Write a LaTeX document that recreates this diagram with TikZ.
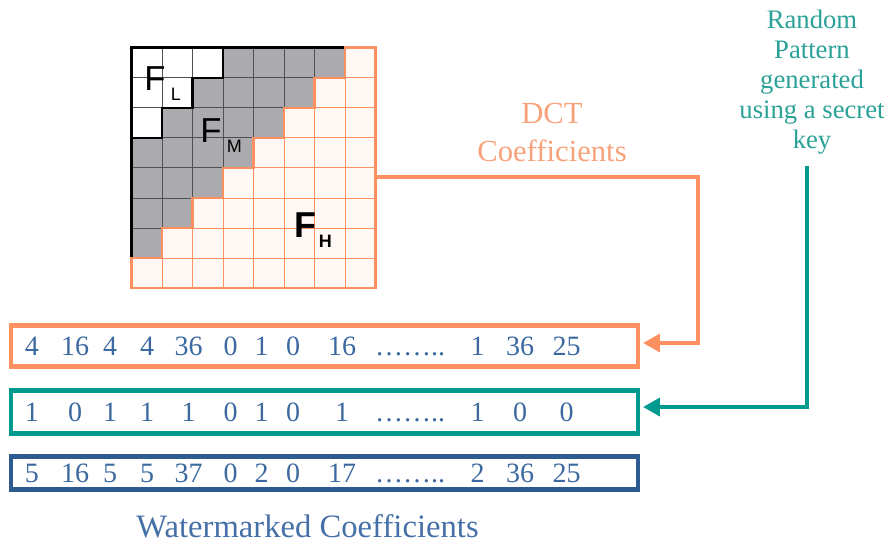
\documentclass[tikz,border=0pt]{standalone}
\definecolor{dctorange}{HTML}{FF9160}
\definecolor{dcttext}{HTML}{F8A27C}
\definecolor{keyteal}{HTML}{009A8E}
\definecolor{keytext}{HTML}{2AA197}
\definecolor{numblue}{HTML}{3B69A0}
\definecolor{wmblue}{HTML}{2E5B8F}
\definecolor{wmtext}{HTML}{4670A8}
\definecolor{cellgray}{HTML}{ABAAAE}
\definecolor{hfill}{HTML}{FFF8F5}
\definecolor{gridline}{HTML}{505050}
\usepackage{fontspec}
\setmainfont{Liberation Serif}
\setsansfont{Liberation Sans}
\usepackage{tikz}
\usetikzlibrary{arrows.meta, positioning}
\newcommand{\fband}[2][4pt]{F\kern#1\raisebox{-8pt}{\fontsize{13.5}{14}\selectfont #2}}

\begin{document}
\begin{tikzpicture}[
    x=0.75pt, y=-0.75pt,
    coefbox/.style={draw, line width=3.4pt, minimum width=470pt, inner sep=0pt},
    coef/.style={text=numblue, font=\fontsize{21}{25}\selectfont, inner sep=0pt, text height=14.2pt, text depth=0pt},
    lowcell/.style={draw=gridline, line width=0.75pt},
    highcell/.style={draw=dctorange, fill=hfill, line width=0.75pt},
    bandlabel/.style={font=\sffamily\fontsize{26}{28}\selectfont, anchor=base west, inner sep=0pt},
    conn/.style={line width=2.5pt, -{Triangle[length=12.5pt,width=13.5pt]}, shorten >=2.25pt},
    node distance=14pt,
  ]
  \useasboundingbox (0,0) rectangle (890,550);

  \begin{scope}[shift={(131.5,47.5)}, x=22.875pt, y=-22.575pt]
    \foreach \r in {0,...,7}
      \foreach \c in {0,...,7} {
        \pgfmathtruncatemacro\s{\r+\c}
        \ifnum\s<3 \draw[lowcell, fill=white] (\c,\r) rectangle ++(1,1);
        \else\ifnum\s<7 \draw[lowcell, fill=cellgray] (\c,\r) rectangle ++(1,1);
        \fi\fi
      }
    \foreach \r in {0,...,7}
      \foreach \c in {0,...,7} {
        \pgfmathtruncatemacro\s{\r+\c}
        \ifnum\s>6 \draw[highcell] (\c,\r) rectangle ++(1,1); \fi
      }
    \draw[line width=1.6pt] (0,7) -- (0,0) -- (7,0);
    \draw[line width=1.6pt] (0,3) -| (1,2) -| (2,1) -| (3,0);
    \draw[dctorange, line width=1.6pt] (0,7) -| (1,6) -| (2,5) -| (3,4) -| (4,3) -| (5,2) -| (6,1) -| (7,0) -- (8,0) -- (8,8) -- (0,8) -- cycle;
  \end{scope}
  \coordinate (gridout) at (376,177);

  \node[bandlabel] (fl) at (144,90) {\fband{L}};
  \node[bandlabel] (fm) at (200,142) {\fband{M}};
  \node[bandlabel, font=\sffamily\bfseries\fontsize{27}{28}\selectfont] (fh) at (294,237) {\fband[2pt]{H}};

  \node[font=\fontsize{23}{29}\selectfont, text=dcttext, align=center, anchor=north, inner sep=0pt] (dctlab) at (552,102.5) {DCT\\Coefficients};
  \node[font=\fontsize{20}{22.5}\selectfont, text=keytext, align=center, anchor=north, inner sep=0pt] (rnd) at (812,9.5) {Random\\Pattern\\generated\\using a secret\\key};

  \node[coefbox, draw=dctorange, minimum height=31.1pt] (dct) at (324.5,346) {};
  \node[coefbox, draw=keyteal, minimum height=32.6pt, below=14.25pt of dct] (rpat) {};
  \node[coefbox, draw=wmblue, minimum height=25.1pt, below=13.5pt of rpat] (wm) {};

  \foreach \x [count=\i] in {32,75,110,147,188.5,230.5,261.5,293,342,410,477.5,520,566.5}
    \coordinate (col-\i) at (\x,0);
  \foreach \t [count=\i] in {4,16,4,4,36,0,1,0,16,……..,1,36,25}
    \node[coef] (dct-\i) at (col-\i |- dct) {\t};
  \foreach \t [count=\i] in {1,0,1,1,1,0,1,0,1,……..,1,0,0}
    \node[coef] (rpat-\i) at (col-\i |- rpat) {\t};
  \foreach \t [count=\i] in {5,16,5,5,37,0,2,0,17,……..,2,36,25}
    \node[coef] (wm-\i) at (col-\i |- wm) {\t};

  \node[font=\fontsize{24.5}{28}\selectfont, text=wmtext, anchor=base] (wmlab) at (307.5,537) {Watermarked Coefficients};

  \draw[conn, dctorange] (gridout) -- ++(322,0) |- ([yshift=2.25pt]dct.east);
  \draw[conn, keyteal, shorten <=9pt] ([xshift=-3.75pt]rnd.south) |- ([yshift=3.75pt]rpat.east);
\end{tikzpicture}
\end{document}
